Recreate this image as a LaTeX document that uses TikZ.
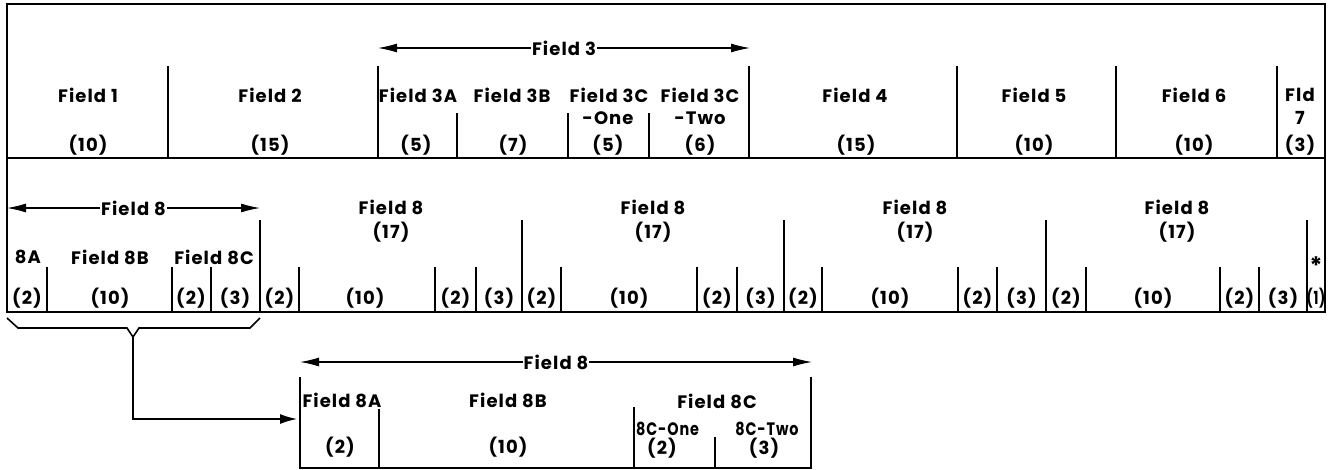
\documentclass[tikz,border=0pt]{standalone}
\usepackage{fontspec}
\setmainfont{Poppins}[LetterSpace=6]
\usetikzlibrary{arrows.meta}
\begin{document}
\begin{tikzpicture}[x=1pt,y=-1pt,
  rule/.style={line width=1.6pt},
  divline/.style={line width=1.4pt},
  lbl/.style={font=\fontsize{18}{18}\selectfont\bfseries, inner sep=0pt, anchor=center},
  dimline/.style={line width=1.2pt, {Latex[length=19pt,width=9pt]}-{Latex[length=19pt,width=9pt]}},
  tag/.style={lbl, fill=white, inner xsep=1pt, inner ysep=2pt},
  tip/.style={line width=1.4pt, -{Latex[length=17pt,width=10pt]}}
]
\useasboundingbox (0,0) rectangle (1338,469);
% ---------- outer frame ----------
\draw[rule] (7,4) rectangle (1325,312);
\draw[rule] (7,158) -- (1325,158);
% ---------- row 1 ----------
\foreach \x in {168,378,749,957,1116,1277} \draw[divline] (\x,66) -- (\x,158);
\foreach \x in {457,568,649} \draw[divline] (\x,113) -- (\x,158);
\coordinate (f3l) at (378,48);
\coordinate (f3r) at (750,48);
\draw[dimline] (f3l) -- (f3r) node[tag, midway] (f3) {Field 3};
\node[lbl] (a1) at (88,95) {Field 1};   \node[lbl] (a1n) at (88,145) {(10)};
\node[lbl] (a2) at (270,95) {Field 2};  \node[lbl] (a2n) at (270,145) {(15)};
\node[lbl] (a3) at (418,95) {Field 3A}; \node[lbl] (a3n) at (416,145) {(5)};
\node[lbl] (a4) at (512,95) {Field 3B}; \node[lbl] (a4n) at (513,145) {(7)};
\node[lbl] (a5) at (609,95) {Field 3C}; \node[lbl] (a5b) at (608,118) {-One}; \node[lbl] (a5n) at (608,145) {(5)};
\node[lbl] (a6) at (700,95) {Field 3C}; \node[lbl] (a6b) at (700,118) {-Two}; \node[lbl] (a6n) at (700,145) {(6)};
\node[lbl] (a7) at (855,95) {Field 4};  \node[lbl] (a7n) at (856,145) {(15)};
\node[lbl] (a8) at (1034,95) {Field 5}; \node[lbl] (a8n) at (1034,145) {(10)};
\node[lbl] (a9) at (1194,95) {Field 6}; \node[lbl] (a9n) at (1194,145) {(10)};
\node[lbl] (a10) at (1300,95) {Fld}; \node[lbl] (a10b) at (1300,118) {7}; \node[lbl] (a10n) at (1300,145) {(3)};
% ---------- row 2 ----------
\foreach \x in {260,522,784,1046,1307} \draw[divline] (\x,220) -- (\x,312);
\foreach \x in {47,172,211,299,435,476,561,697,737,822,958,997,1086,1220,1259}
  \draw[divline] (\x,267) -- (\x,312);
\coordinate (g1l) at (7,208);
\coordinate (g1r) at (260,208);
\draw[dimline] (g1l) -- (g1r) node[tag, midway] (g1) {Field 8};
\node[lbl] (b1) at (28,257) {8A};
\node[lbl] (b2) at (110,257) {Field 8B};
\node[lbl] (b3) at (214,257) {Field 8C};
\node[lbl] (b1n) at (27,298) {(2)};
\node[lbl] (b2n) at (110,298) {(10)};
\node[lbl] (b3n) at (191,298) {(2)};
\node[lbl] (b4n) at (235,298) {(3)};
\foreach \h/\p/\q/\r/\s [count=\i] in {391/279.5/365/455.5/499, 653/541.5/629/717/760.5, 915/803/890/977.5/1021.5, 1177/1066/1153/1239.5/1283}{
  \node[lbl] (h\i) at (\h,207) {Field 8};
  \node[lbl] (k\i) at (\h,232) {(17)};
  \node[lbl] (p\i) at (\p,298) {(2)};
  \node[lbl] (q\i) at (\q,298) {(10)};
  \node[lbl] (r\i) at (\r,298) {(2)};
  \node[lbl] (s\i) at (\s,298) {(3)};
}
\node[lbl, font=\fontsize{24}{24}\selectfont\bfseries] (star) at (1316,266) {*};
\node[lbl] (one) at (1316,298) {\scalebox{0.72}[1]{(1)}};
% ---------- bracket and link ----------
\coordinate (brk) at (133,337);
\draw[rule] (7,318) -- (18,328) -- (127,328) -- (brk) -- (139,328) -- (250,328) -- (260,318);
\coordinate (inbox) at (297,419);
\draw[tip] (brk) |- (inbox);
% ---------- bottom box ----------
\draw[rule] (300,377) -- (300,468) -- (811,468) -- (811,377);
\draw[divline] (379,409) -- (379,468);
\draw[divline] (634,407) -- (634,468);
\draw[divline] (715,437) -- (715,468);
\coordinate (c8l) at (300,362);
\coordinate (c8r) at (812,362);
\draw[dimline] (c8l) -- (c8r) node[tag, midway] (c8) {Field 8};
\node[lbl] (d1) at (342,400) {Field 8A}; \node[lbl] (d1n) at (340,447) {(2)};
\node[lbl] (d2) at (508,400) {Field 8B}; \node[lbl] (d2n) at (508,447) {(10)};
\node[lbl] (d3) at (717,401) {Field 8C};
\node[lbl, anchor=west] (d4) at (636,429) {\scalebox{0.8}[1]{8C-One}}; \node[lbl] (d4n) at (662,448) {(2)};
\node[lbl] (d5) at (767,429) {\scalebox{0.8}[1]{8C-Two}}; \node[lbl] (d5n) at (764,448) {(3)};
\end{tikzpicture}
\end{document}
